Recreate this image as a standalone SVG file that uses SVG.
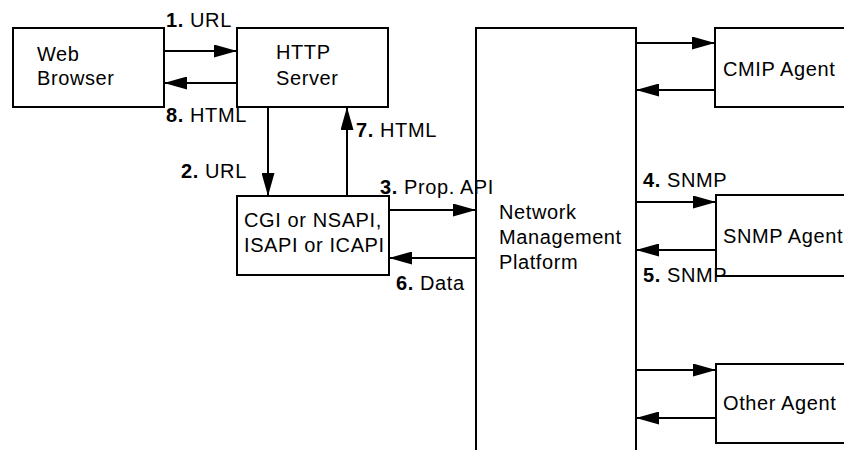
<svg xmlns="http://www.w3.org/2000/svg" width="844" height="450" viewBox="0 0 844 450">
  <style>
    .box { fill: #fff; stroke: #000; stroke-width: 2; }
    .edge { fill: none; stroke: #000; stroke-width: 2; }
    text { font-family: "Liberation Sans", Arial, sans-serif; font-size: 20px; letter-spacing: 0.6px; fill: #000; }
    .num { font-weight: bold; }
  </style>
  <defs>
    <marker id="arrow" viewBox="0 0 23 13" refX="23" refY="6.5" markerWidth="23" markerHeight="13" markerUnits="userSpaceOnUse" orient="auto">
      <path d="M0,0 L23,6.5 L0,13 Z" fill="#000"/>
    </marker>
  </defs>

  <rect x="0" y="0" width="844" height="450" fill="#fff"/>

  <g id="web-browser">
    <rect class="box" x="13" y="28" width="151" height="79"/>
    <text x="37" y="61">Web</text>
    <text x="37" y="85">Browser</text>
  </g>

  <g id="http-server">
    <rect class="box" x="237" y="28" width="151" height="79"/>
    <text x="276" y="59">HTTP</text>
    <text x="276" y="85">Server</text>
  </g>

  <g id="cgi">
    <rect class="box" x="237" y="196" width="152" height="79"/>
    <text x="244" y="227">CGI or NSAPI,</text>
    <text x="244" y="252">ISAPI or ICAPI</text>
  </g>

  <g id="network-management-platform">
    <path class="edge" d="M476,460 V28 H636 V460"/>
    <text x="499" y="219">Network</text>
    <text x="499" y="244">Management</text>
    <text x="499" y="269">Platform</text>
  </g>

  <g id="cmip-agent">
    <path class="edge" d="M850,28 H715 V107 H850"/>
    <text x="723" y="76">CMIP Agent</text>
  </g>

  <g id="snmp-agent">
    <path class="edge" d="M850,195 H716 V276 H850"/>
    <text x="723" y="243">SNMP Agent</text>
  </g>

  <g id="other-agent">
    <path class="edge" d="M850,364 H716 V443 H850"/>
    <text x="723" y="410">Other Agent</text>
  </g>

  <g id="connectors">
    <line class="edge" x1="164" y1="51" x2="237" y2="51" marker-end="url(#arrow)"/>
    <line class="edge" x1="237" y1="83" x2="164" y2="83" marker-end="url(#arrow)"/>
    <line class="edge" x1="268" y1="107" x2="268" y2="196" marker-end="url(#arrow)"/>
    <line class="edge" x1="347" y1="196" x2="347" y2="107" marker-end="url(#arrow)"/>
    <line class="edge" x1="389" y1="210" x2="476" y2="210" marker-end="url(#arrow)"/>
    <line class="edge" x1="476" y1="258" x2="389" y2="258" marker-end="url(#arrow)"/>
    <line class="edge" x1="636" y1="43" x2="715" y2="43" marker-end="url(#arrow)"/>
    <line class="edge" x1="715" y1="90" x2="636" y2="90" marker-end="url(#arrow)"/>
    <line class="edge" x1="636" y1="202" x2="716" y2="202" marker-end="url(#arrow)"/>
    <line class="edge" x1="716" y1="250" x2="636" y2="250" marker-end="url(#arrow)"/>
    <line class="edge" x1="636" y1="370" x2="716" y2="370" marker-end="url(#arrow)"/>
    <line class="edge" x1="716" y1="418" x2="636" y2="418" marker-end="url(#arrow)"/>
  </g>

  <g id="connector-labels">
    <text x="166" y="27"><tspan class="num">1.</tspan> URL</text>
    <text x="166" y="122"><tspan class="num">8.</tspan> HTML</text>
    <text x="181" y="178"><tspan class="num">2.</tspan> URL</text>
    <text x="356" y="137"><tspan class="num">7.</tspan> HTML</text>
    <text x="380" y="194"><tspan class="num">3.</tspan> Prop. API</text>
    <text x="396" y="290"><tspan class="num">6.</tspan> Data</text>
    <text x="643" y="187"><tspan class="num">4.</tspan> SNMP</text>
    <text x="643" y="282"><tspan class="num">5.</tspan> SNMP</text>
  </g>
</svg>
